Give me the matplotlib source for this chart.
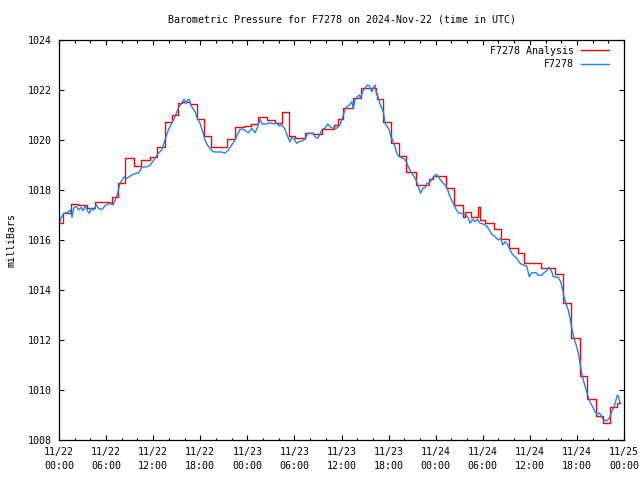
import numpy as np
import matplotlib
matplotlib.use('Agg')
import matplotlib.pyplot as plt
from matplotlib.ticker import MultipleLocator

# hours since 2024-11-22 00:00 UTC
red_t = [0.00, 0.45, 1.53, 2.46, 3.53, 4.59, 6.50, 6.72, 7.56, 8.47, 9.52, 10.51,
         11.66, 12.49, 13.57, 14.40, 15.17, 15.64, 16.69, 17.55, 18.44, 19.31,
         21.41, 22.49, 23.58, 24.47, 25.40, 26.47, 27.53, 28.42, 29.35, 30.08,
         31.35, 32.41, 33.48, 35.08, 35.59, 36.19, 37.43, 38.45, 40.40, 40.56,
         41.33, 42.31, 43.37, 44.22, 45.50, 47.19, 47.70, 49.32, 50.34, 51.52,
         51.74, 52.44, 53.40, 53.65, 54.35, 55.40, 56.35, 57.35, 58.49, 59.32,
         61.42, 63.27, 64.23, 65.27, 66.33, 67.31, 68.37, 69.33, 70.22, 71.11,
         71.49]
red_p = [1016.67, 1017.09, 1017.43, 1017.40, 1017.27, 1017.51, 1017.47, 1017.73,
         1018.27, 1019.27, 1018.96, 1019.20, 1019.33, 1019.73, 1020.73, 1021.00,
         1021.49, 1021.53, 1021.44, 1020.83, 1020.16, 1019.73, 1020.04, 1020.51,
         1020.57, 1020.64, 1020.91, 1020.80, 1020.69, 1021.13, 1020.16, 1020.07,
         1020.29, 1020.24, 1020.43, 1020.60, 1020.85, 1021.27, 1021.69, 1022.08,
         1021.83, 1021.64, 1020.73, 1019.87, 1019.36, 1018.73, 1018.20, 1018.45,
         1018.56, 1018.07, 1017.40, 1016.93, 1017.13, 1016.93, 1017.31, 1016.80,
         1016.67, 1016.43, 1016.03, 1015.67, 1015.47, 1015.07, 1014.90, 1014.64,
         1013.47, 1012.10, 1010.57, 1009.63, 1008.95, 1008.67, 1009.32, 1009.48,
         1009.48]

blue_t = [0.00, 0.17, 0.60, 1.02, 1.44, 1.66, 1.87, 2.17, 2.51, 2.80, 3.06, 3.35,
          3.66, 3.86, 4.12, 4.42, 4.75, 5.06, 5.48, 5.90, 6.54, 6.88, 7.17, 7.48,
          7.74, 8.03, 8.32, 8.67, 9.09, 9.52, 10.16, 10.58, 11.21, 11.64, 12.07,
          12.65, 13.09, 13.51, 13.93, 14.36, 14.78, 15.20, 15.64, 15.97, 16.18,
          16.40, 16.61, 16.78, 17.04, 17.33, 17.62, 17.97, 18.31, 18.61, 18.90,
          19.24, 19.66, 20.10, 20.73, 21.15, 21.58, 22.01, 22.43, 22.72, 23.07,
          23.49, 23.92, 24.12, 24.56, 24.98, 25.32, 25.61, 25.91, 26.47, 26.89,
          27.31, 27.74, 28.04, 28.38, 28.80, 29.15, 29.44, 29.66, 29.99, 30.29,
          30.58, 31.00, 31.35, 31.69, 32.41, 32.62, 32.97, 33.26, 33.55, 33.90,
          34.24, 34.54, 34.96, 35.39, 35.81, 36.10, 36.45, 36.66, 37.00, 37.30,
          37.50, 37.72, 38.01, 38.27, 38.45, 38.70, 38.99, 39.29, 39.54, 39.85,
          40.05, 40.27, 40.40, 40.56, 40.82, 41.12, 41.33, 41.54, 41.84, 42.09,
          42.27, 42.53, 42.82, 43.04, 43.24, 43.55, 43.88, 44.22, 44.51, 44.82,
          45.07, 45.37, 45.66, 45.92, 46.09, 46.35, 46.64, 46.86, 47.19, 47.50,
          47.79, 48.04, 48.21, 48.55, 48.90, 49.19, 49.48, 49.74, 50.04, 50.34,
          50.59, 50.89, 51.19, 51.52, 51.87, 52.16, 52.38, 52.72, 53.01, 53.31,
          53.65, 54.07, 54.50, 54.84, 55.14, 55.56, 55.98, 56.29, 56.54, 56.84,
          57.13, 57.39, 57.69, 57.98, 58.33, 58.75, 59.17, 59.60, 59.93, 60.24,
          60.79, 61.08, 61.51, 61.81, 62.15, 62.48, 62.79, 62.99, 63.63, 63.93,
          64.19, 64.35, 64.61, 64.90, 65.12, 65.34, 65.54, 65.76, 65.97, 66.18,
          66.39, 66.61, 66.81, 67.03, 67.24, 67.45, 67.66, 68.01, 68.31, 68.60,
          68.86, 69.16, 69.37, 69.80, 70.13, 70.44, 70.73, 70.98, 71.15, 71.33,
          71.49]
blue_p = [1016.53, 1016.83, 1017.07, 1017.09, 1017.20, 1016.91, 1017.27, 1017.36,
          1017.20, 1017.31, 1017.17, 1017.36, 1017.15, 1017.07, 1017.27, 1017.20,
          1017.41, 1017.25, 1017.23, 1017.39, 1017.47, 1017.40, 1017.60, 1017.87,
          1018.24, 1018.40, 1018.53, 1018.47, 1018.56, 1018.64, 1018.69, 1018.91,
          1018.93, 1019.00, 1019.20, 1019.47, 1019.60, 1020.00, 1020.40, 1020.67,
          1020.93, 1021.27, 1021.49, 1021.63, 1021.47, 1021.60, 1021.63, 1021.40,
          1021.27, 1021.13, 1020.87, 1020.67, 1020.33, 1020.00, 1019.80, 1019.67,
          1019.53, 1019.52, 1019.52, 1019.47, 1019.60, 1019.80, 1020.00, 1020.20,
          1020.43, 1020.43, 1020.33, 1020.29, 1020.47, 1020.29, 1020.53, 1020.83,
          1020.64, 1020.64, 1020.69, 1020.64, 1020.69, 1020.56, 1020.60, 1020.43,
          1020.13, 1019.93, 1020.11, 1020.03, 1019.87, 1019.93, 1019.97, 1020.03,
          1020.27, 1020.27, 1020.13, 1020.07, 1020.24, 1020.43, 1020.47, 1020.64,
          1020.53, 1020.47, 1020.47, 1020.60, 1020.87, 1021.20, 1021.33, 1021.40,
          1021.53, 1021.27, 1021.60, 1021.73, 1021.80, 1021.69, 1021.93, 1022.07,
          1022.20, 1022.17, 1021.93, 1022.09, 1022.20, 1021.93, 1021.83, 1021.53,
          1021.27, 1021.13, 1020.67, 1020.53, 1020.40, 1020.13, 1020.00, 1019.73,
          1019.47, 1019.37, 1019.29, 1019.27, 1019.16, 1018.93, 1018.73, 1018.63,
          1018.47, 1018.27, 1018.00, 1017.87, 1018.07, 1018.09, 1018.27, 1018.27,
          1018.44, 1018.53, 1018.63, 1018.60, 1018.43, 1018.29, 1018.20, 1018.07,
          1017.80, 1017.60, 1017.40, 1017.23, 1017.09, 1017.07, 1017.04, 1017.00,
          1016.87, 1016.67, 1016.83, 1016.73, 1016.83, 1016.67, 1016.64, 1016.56,
          1016.40, 1016.24, 1016.13, 1016.00, 1016.07, 1015.80, 1015.93, 1015.84,
          1015.67, 1015.47, 1015.36, 1015.27, 1015.07, 1015.00, 1014.96, 1014.53,
          1014.69, 1014.69, 1014.59, 1014.59, 1014.69, 1014.77, 1014.91, 1014.73,
          1014.53, 1014.51, 1014.33, 1014.00, 1013.73, 1013.47, 1013.20, 1012.87,
          1012.47, 1012.20, 1011.93, 1011.73, 1011.47, 1011.07, 1010.67, 1010.40,
          1010.16, 1009.93, 1009.73, 1009.53, 1009.33, 1009.13, 1009.04, 1009.09,
          1008.93, 1008.80, 1008.77, 1008.87, 1009.13, 1009.33, 1009.60, 1009.80,
          1009.71, 1009.49]

tick_hours = list(range(0, 73, 6))
tick_labels = ['11/22\n00:00', '11/22\n06:00', '11/22\n12:00', '11/22\n18:00',
               '11/23\n00:00', '11/23\n06:00', '11/23\n12:00', '11/23\n18:00',
               '11/24\n00:00', '11/24\n06:00', '11/24\n12:00', '11/24\n18:00',
               '11/25\n00:00']

plt.rcParams['font.family'] = 'DejaVu Sans Mono'
plt.rcParams['font.size'] = 7.2

fig = plt.figure(figsize=(6.4, 4.8), dpi=100)
ax = fig.add_axes([59 / 640, 40 / 480, 565 / 640, 400 / 480])

ax.plot(red_t, red_p, color='#ff0000', lw=1.0, drawstyle='steps-post',
        label='F7278 Analysis')
ax.plot(blue_t, blue_p, color='#1a84f0', lw=1.0, label='F7278')

ax.set_xlim(0, 72)
ax.set_ylim(1008, 1024)
ax.set_xticks(tick_hours)
ax.set_xticklabels(tick_labels, linespacing=1.5)
ax.xaxis.set_minor_locator(MultipleLocator(2))
ax.set_yticks(range(1008, 1025, 2))
ax.tick_params(which='both', direction='in', top=True, right=True, width=0.8)
ax.tick_params(which='major', length=3.5, pad=5)
ax.tick_params(which='minor', length=1.8)
for s in ax.spines.values():
    s.set_linewidth(0.9)

ax.set_ylabel('milliBars', labelpad=8)
fig.text(341.5 / 640, 1 - 20 / 480,
         'Barometric Pressure for F7278 on 2024-Nov-22 (time in UTC)',
         ha='center', va='center')
ax.legend(loc='upper right', bbox_to_anchor=(1 - 9 / 565, 1.0), frameon=False,
          markerfirst=False, handlelength=2.8, borderaxespad=0.2,
          labelspacing=0.35, handletextpad=0.7)

fig.savefig('out.png', dpi=100)
